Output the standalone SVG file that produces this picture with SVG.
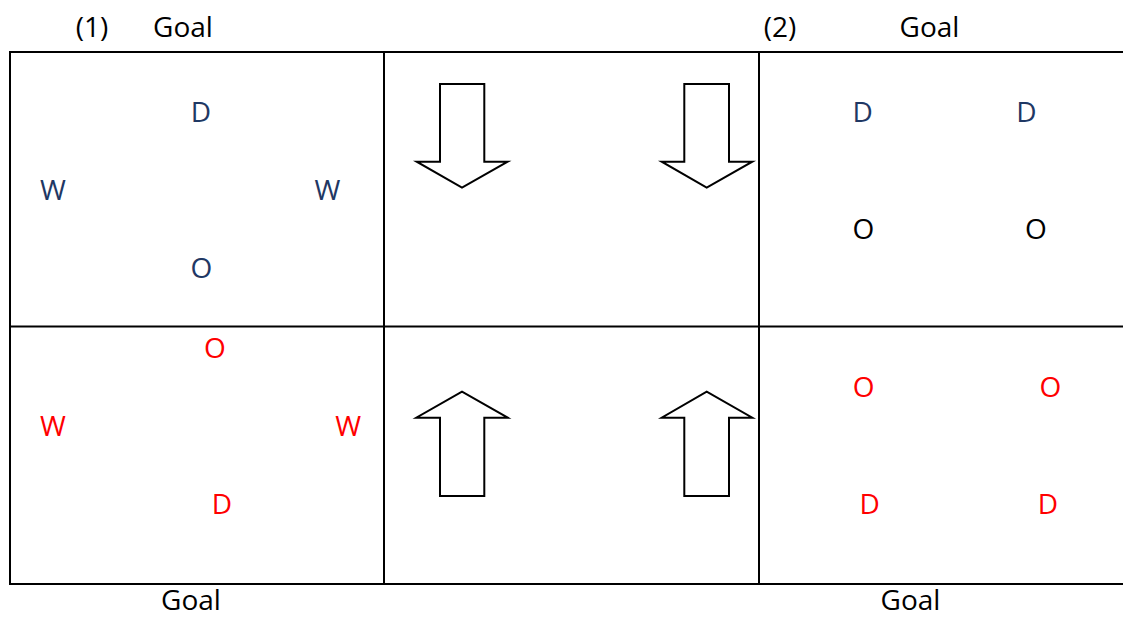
<svg xmlns="http://www.w3.org/2000/svg" width="1123" height="618" viewBox="0 0 1123 618">
<style>
text{font-family:"Open Sans","Noto Sans",sans-serif;font-size:28px;text-anchor:middle}
.k{fill:#000}
.b{fill:#1F3864}
.r{fill:#FF0000}
.grid{stroke:#000;stroke-width:2;fill:none}
.arr{stroke:#000;stroke-width:2;fill:#fff;stroke-linejoin:miter}
</style>
<rect width="1123" height="618" fill="#fff"/>
<g id="grid" class="grid">
<line x1="10" y1="52" x2="1123" y2="52"/>
<line x1="10" y1="326.5" x2="1123" y2="326.5"/>
<line x1="10" y1="584" x2="1123" y2="584"/>
<line x1="10" y1="51" x2="10" y2="585"/>
<line x1="384" y1="51" x2="384" y2="585"/>
<line x1="759" y1="51" x2="759" y2="585"/>
</g>
<g id="labels">
<text class="k" x="92" y="37">(1)</text>
<text class="k" x="183" y="37">Goal</text>
<text class="k" x="780" y="37">(2)</text>
<text class="k" x="929.5" y="37">Goal</text>
<text class="k" x="191" y="610">Goal</text>
<text class="k" x="910.5" y="610">Goal</text>
</g>
<g id="panel1-top">
<text class="b" x="201" y="122">D</text>
<text class="b" x="53" y="200">W</text>
<text class="b" x="327.5" y="200">W</text>
<text class="b" x="201.3" y="278">O</text>
</g>
<g id="panel1-bottom">
<text class="r" x="215" y="358">O</text>
<text class="r" x="53" y="435.5">W</text>
<text class="r" x="348.3" y="435.5">W</text>
<text class="r" x="222" y="514">D</text>
</g>
<g id="panel2-top">
<text class="b" x="862.7" y="121.7">D</text>
<text class="b" x="1026.5" y="121.7">D</text>
<text class="k" x="863.3" y="239.3">O</text>
<text class="k" x="1036" y="239.3">O</text>
</g>
<g id="panel2-bottom">
<text class="r" x="863.7" y="397.3">O</text>
<text class="r" x="1050.3" y="397.3">O</text>
<text class="r" x="869.7" y="514">D</text>
<text class="r" x="1048" y="514">D</text>
</g>
<g id="connectors">
<polygon id="arrow-down-1" class="arr" points="440,84 484.3,84 484.3,161.7 507.7,161.7 462,187.7 416.7,161.7 440,161.7"/>
<polygon id="arrow-down-2" class="arr" points="684.3,84 729,84 729,161.7 752.3,161.7 706.7,187.7 661.7,161.7 684.3,161.7"/>
<polygon id="arrow-up-1" class="arr" points="440,496 484.3,496 484.3,417.7 507.7,417.7 462,391.7 416.3,417.7 440,417.7"/>
<polygon id="arrow-up-2" class="arr" points="684.3,496 729,496 729,417.7 752.3,417.7 706.7,391.7 661.7,417.7 684.3,417.7"/>
</g>
</svg>
